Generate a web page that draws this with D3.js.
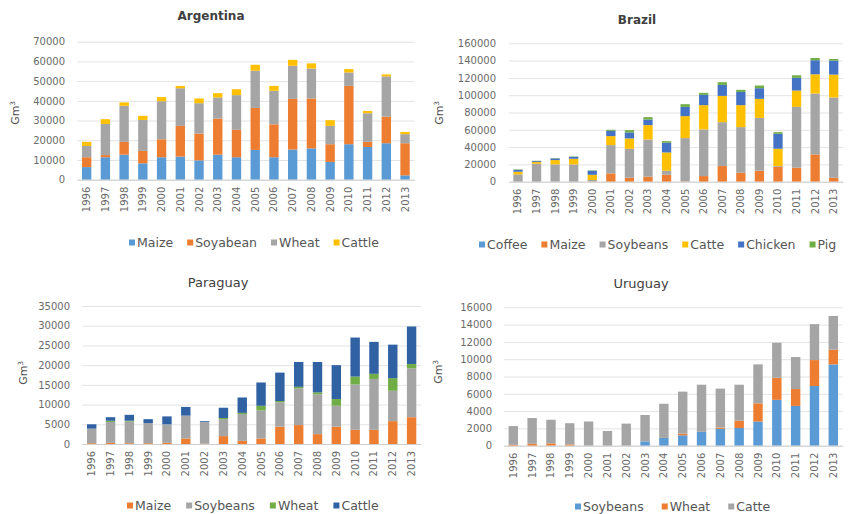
<!DOCTYPE html>
<html>
<head>
<meta charset="utf-8">
<script src="https://cdn.jsdelivr.net/npm/d3@7"></script>
<style>
  body { margin: 0; background: #fff; }
  svg { display: block; }
  text { font-family: "DejaVu Sans", sans-serif; }
</style>
</head>
<body>
<svg id="chart" width="848" height="514"></svg>
<script>
// Years shown on every panel
const years = ["1996","1997","1998","1999","2000","2001","2002","2003","2004",
               "2005","2006","2007","2008","2009","2010","2011","2012","2013"];

// Argentina (Gm³)
const argMaize    = [6400,11400,12700,8300,11400,11700,9800,12700,11400,15100,11400,15300,15900,9000,18000,16600,18500,2200];
const argSoyabean = [5000,1100,6500,6300,9100,15600,13600,18300,13900,21300,16700,25700,25300,9000,29600,2600,13500,16300];
const argWheat    = [5700,15800,18300,15700,19300,19100,15400,10700,17600,18900,17000,16800,15200,9300,6800,14500,20400,4600];
const argCattle   = [2100,2400,1700,2100,2100,1100,2400,2200,3000,3000,2500,3000,2600,2900,1700,1200,1000,1100];
const argTicks    = [0,10000,20000,30000,40000,50000,60000,70000];

// Brazil (Gm³)
const braCoffee   = [0,0,0,0,0,0,0,0,0,0,0,0,0,0,0,0,0,0];
const braMaize    = [0,0,0,0,500,9600,4600,5800,8100,400,6500,18100,10400,12700,17300,16200,31500,4600];
const braSoybeans = [8500,20800,20000,20000,1500,32700,33400,43000,4600,50000,53900,50700,52700,61100,800,70300,70400,92700];
const braCatte    = [3000,1900,5000,6500,6000,10400,12000,16600,21100,25400,28100,30400,25400,22000,20000,18900,22300,26500];
const braChicken  = [2300,1100,1900,2300,4700,6100,6900,6500,11200,10700,11900,12700,15300,12300,17300,14600,16200,16200];
const braPig      = [400,400,400,400,400,1200,2700,2700,1900,3100,2300,3100,2400,3100,1900,3000,2600,1900];
const braTicks    = [0,20000,40000,60000,80000,100000,120000,140000,160000];

// Paraguay (Gm³)
const parMaize    = [200,300,200,200,300,1400,100,2000,800,1400,4400,4800,2500,4400,3600,3600,5800,6800];
const parSoybeans = [3700,5300,5500,5100,4700,5800,5500,4300,6800,7100,6200,9300,10100,5300,11500,12900,7700,12400];
const parWheat    = [0,300,200,0,0,0,0,300,300,1200,300,400,500,1700,2000,1300,3200,1100];
const parCattle   = [1100,900,1500,1000,2000,2200,200,2600,3900,5900,7200,6300,7700,8600,9900,8100,8500,9500];
const parTicks    = [0,5000,10000,15000,20000,25000,30000,35000];

// Uruguay (Gm³)
const uruSoybeans = [0,0,0,0,0,0,0,500,900,1200,1600,1950,2050,2800,5300,4600,6900,9400];
const uruWheat    = [100,230,270,150,0,0,0,0,0,200,0,150,850,2100,2550,1950,3000,1700];
const uruCatte    = [2170,2970,2730,2450,2800,1700,2550,3050,3950,4850,5450,4500,4150,4500,4050,3700,4150,3900];
const uruTicks    = [0,2000,4000,6000,8000,10000,12000,14000,16000];

const C = {
  blue: "#5b9bd5", orange: "#ed7d31", gray: "#a5a5a5",
  yellow: "#ffc000", navy: "#4472c4", green: "#70ad47", deep: "#2f61a3"
};

const panels = [
  {
    title: "Argentina", bold: true, titleX: 211, titleY: 20,
    series: [
      { name: "Maize", values: argMaize, color: C.blue },
      { name: "Soyabean", values: argSoyabean, color: C.orange },
      { name: "Wheat", values: argWheat, color: C.gray },
      { name: "Cattle", values: argCattle, color: C.yellow }
    ],
    ticks: argTicks,
    x0: 77.3, x1: 414.4, yb: 179.7, yt: 41.7, tickRight: 65,
    axisX: 15, axisY: 113, legendX: 129, legendY: 243, legendGap: 14
  },
  {
    title: "Brazil", bold: true, titleX: 637, titleY: 24,
    series: [
      { name: "Coffee", values: braCoffee, color: C.blue },
      { name: "Maize", values: braMaize, color: C.orange },
      { name: "Soybeans", values: braSoybeans, color: C.gray },
      { name: "Catte", values: braCatte, color: C.yellow },
      { name: "Chicken", values: braChicken, color: C.navy },
      { name: "Pig", values: braPig, color: C.green }
    ],
    ticks: braTicks,
    x0: 508.7, x1: 843, yb: 181.7, yt: 43.3, tickRight: 496,
    axisX: 439, axisY: 113, legendX: 479, legendY: 245, legendGap: 14
  },
  {
    title: "Paraguay", bold: false, titleX: 218, titleY: 287,
    series: [
      { name: "Maize", values: parMaize, color: C.orange },
      { name: "Soybeans", values: parSoybeans, color: C.gray },
      { name: "Wheat", values: parWheat, color: C.green },
      { name: "Cattle", values: parCattle, color: C.deep }
    ],
    ticks: parTicks,
    x0: 82.3, x1: 421, yb: 444, yt: 306, tickRight: 70,
    axisX: 23, axisY: 373, legendX: 127, legendY: 506, legendGap: 15
  },
  {
    title: "Uruguay", bold: false, titleX: 641, titleY: 288,
    series: [
      { name: "Soybeans", values: uruSoybeans, color: C.blue },
      { name: "Wheat", values: uruWheat, color: C.orange },
      { name: "Catte", values: uruCatte, color: C.gray }
    ],
    ticks: uruTicks,
    x0: 503.9, x1: 842.7, yb: 445.7, yt: 307.3, tickRight: 492,
    axisX: 438, axisY: 372, legendX: 575, legendY: 507, legendGap: 18
  }
];

const svg = d3.select("#chart");

function drawPanel(p) {
  const g = svg.append("g");
  const keys = p.series.map(s => s.name);
  const rows = years.map((yr, i) => {
    const r = { year: yr };
    p.series.forEach(s => { r[s.name] = s.values[i]; });
    return r;
  });

  const x = d3.scaleBand().domain(years).range([p.x0, p.x1])
    .paddingInner(0.5).paddingOuter(0.25);
  const y = d3.scaleLinear().domain([0, d3.max(p.ticks)]).range([p.yb, p.yt]);

  // title
  g.append("text")
    .attr("x", p.titleX).attr("y", p.titleY)
    .attr("text-anchor", "middle")
    .attr("font-size", p.bold ? 12 : 13)
    .attr("font-weight", p.bold ? "bold" : "normal")
    .attr("fill", "#404040")
    .text(p.title);

  // gridlines + value labels
  const yAxis = d3.axisLeft(y).tickValues(p.ticks)
    .tickSize(-(p.x1 - p.x0)).tickPadding(p.x0 - p.tickRight)
    .tickFormat(d3.format("d"));
  const ya = g.append("g").attr("transform", `translate(${p.x0},0)`).call(yAxis);
  ya.select(".domain").remove();
  ya.selectAll(".tick line").attr("stroke", "#e3e3e3").attr("stroke-width", 1);
  ya.selectAll(".tick text").attr("fill", "#6b6b6b").attr("font-size", 10)
    .attr("font-family", "DejaVu Sans, sans-serif");

  // y-axis title
  const at = g.append("text")
    .attr("transform", `translate(${p.axisX},${p.axisY}) rotate(-90)`)
    .attr("text-anchor", "middle").attr("dy", "0.35em")
    .attr("font-size", 11).attr("fill", "#505050");
  at.append("tspan").text("Gm");
  at.append("tspan").attr("font-size", 7).attr("dy", "-0.6em").text("3");

  // stacked bars
  const stacked = d3.stack().keys(keys)(rows);
  const colorOf = d3.scaleOrdinal().domain(keys).range(p.series.map(s => s.color));
  g.append("g").selectAll("g").data(stacked).join("g")
    .attr("fill", d => colorOf(d.key))
    .selectAll("rect").data(d => d).join("rect")
    .attr("x", d => x(d.data.year))
    .attr("width", x.bandwidth())
    .attr("y", d => y(d[1]))
    .attr("height", d => Math.max(0, y(d[0]) - y(d[1])));

  // category axis
  const xAxis = d3.axisBottom(x).tickSize(0).tickSizeOuter(0);
  const xa = g.append("g").attr("transform", `translate(0,${p.yb})`).call(xAxis);
  xa.select(".domain").attr("stroke", "#cfcfcf");
  xa.selectAll(".tick text")
    .attr("transform", "rotate(-90)")
    .attr("x", -7).attr("y", 0).attr("dy", "0.35em")
    .attr("text-anchor", "end")
    .attr("fill", "#6b6b6b").attr("font-size", 10)
    .attr("font-family", "DejaVu Sans, sans-serif");

  // legend
  const lg = g.append("g").attr("transform", `translate(${p.legendX},${p.legendY})`);
  let cx = 0;
  p.series.forEach(s => {
    const item = lg.append("g").attr("transform", `translate(${cx},0)`);
    item.append("rect").attr("x", 0).attr("y", -3.5).attr("width", 6).attr("height", 6)
      .attr("fill", s.color);
    const t = item.append("text").attr("x", 8).attr("dy", "0.35em")
      .attr("font-size", 12.5).attr("fill", "#555").text(s.name);
    cx += 8 + t.node().getComputedTextLength() + p.legendGap;
  });
}

panels.forEach(drawPanel);
</script>
</body>
</html>
